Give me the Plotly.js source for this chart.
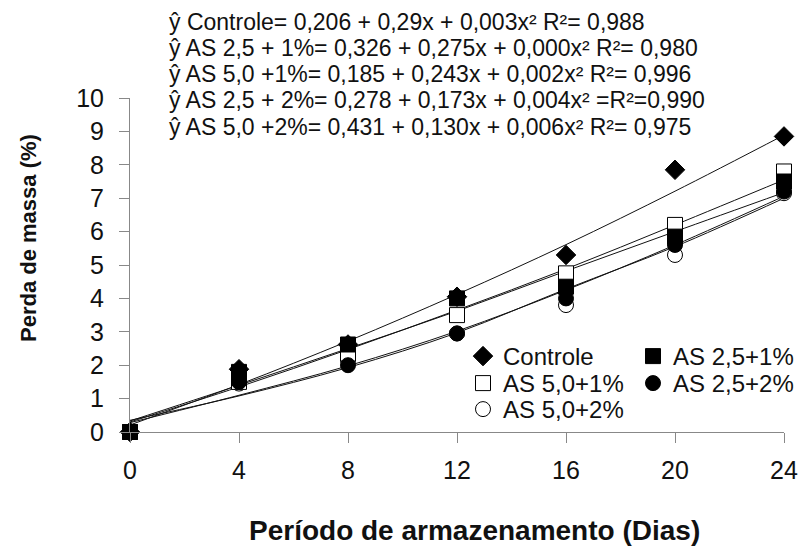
<!DOCTYPE html>
<html>
<head>
<meta charset="utf-8">
<script src="https://cdn.plot.ly/plotly-3.0.1.min.js"></script>
<style>html,body{margin:0;padding:0;background:#fff;}#chart{width:802px;height:551px;}</style>
</head>
<body>
<div id="chart"></div>
<script>
// ---- data ----
const days = [0, 4, 8, 12, 16, 20, 24];
const controle = [0, 1.88, 2.62, 4.05, 5.3, 7.85, 8.85];
const as25_1 = [0, 1.8, 2.62, 4.0, 4.35, 5.85, 7.5];
const as50_1 = [0, 1.5, 2.35, 3.5, 4.75, 6.2, 7.8];
const as25_2 = [0, 1.5, 2.0, 2.95, 4.0, 5.6, 7.2];
const as50_2 = [0, 1.45, 2.15, 2.95, 3.8, 5.3, 7.15];

// trendline values at each day
const fitControle = [0.21, 1.42, 2.72, 4.12, 5.61, 7.21, 8.89];
const fitAS25_1 = [0.33, 1.40, 2.50, 3.62, 4.82, 6.00, 7.17];
const fitAS50_1 = [0.30, 1.35, 2.47, 3.65, 4.88, 6.20, 7.55];
const fitAS25_2 = [0.28, 1.10, 1.98, 3.02, 4.25, 5.60, 7.06];
const fitAS50_2 = [0.35, 1.08, 1.93, 2.97, 4.28, 5.55, 7.00];

const seriesNames = ["Controle", "AS 2,5+1%", "AS 5,0+1%", "AS 2,5+2%", "AS 5,0+2%"];
const equations = [
  "ŷ Controle= 0,206 + 0,29x + 0,003x² R²= 0,988",
  "ŷ AS 2,5 + 1%= 0,326 + 0,275x + 0,000x² R²= 0,980",
  "ŷ AS 5,0 +1%= 0,185 + 0,243x + 0,002x² R²= 0,996",
  "ŷ AS 2,5 + 2%= 0,278 + 0,173x + 0,004x² =R²=0,990",
  "ŷ AS 5,0 +2%= 0,431 + 0,130x + 0,006x² R²= 0,975"
];
const xTicks = [0, 4, 8, 12, 16, 20, 24];
const yTicks = [0, 1, 2, 3, 4, 5, 6, 7, 8, 9, 10];
const xTitle = "Período de armazenamento (Dias)";
const yTitle = "Perda de massa (%)";

// ---- plot geometry ----
const W = 802, H = 551;
const M = {l: 130, r: 18, t: 98, b: 119, autoexpand: false};
const plotH = H - M.t - M.b, plotW = W - M.l - M.r;
const pyToPaper = py => (H - M.b - py) / plotH;
const pxToPaper = px => (px - M.l) / plotW;

function fitLine(y) {
  return {x: days, y: y, mode: "lines", type: "scatter", showlegend: false,
    hoverinfo: "skip", line: {color: "#111", width: 1, shape: "spline", smoothing: 1}};
}
function pts(y, name, symbol, fill, size, legend) {
  return {x: days, y: y, name: name, mode: "markers", type: "scatter", cliponaxis: false,
    legend: legend,
    marker: {symbol: symbol, size: size, color: fill, line: {color: "#000", width: 1}}};
}

const traces = [
  fitLine(fitControle), fitLine(fitAS25_1), fitLine(fitAS50_1), fitLine(fitAS25_2), fitLine(fitAS50_2),
  pts(controle, seriesNames[0], "diamond", "#000", 15, "legend"),
  pts(as50_2, seriesNames[4], "circle", "#fff", 15, "legend5"),
  pts(as50_1, seriesNames[2], "square", "#fff", 15, "legend3"),
  pts(as25_2, seriesNames[3], "circle", "#000", 15, "legend4"),
  pts(as25_1, seriesNames[1], "square", "#000", 15, "legend2")
];

const eqY = [22, 48, 74, 100, 127];
const annotations = equations.map((t, i) => ({
  text: t, xref: "paper", yref: "paper", x: pxToPaper(167), y: pyToPaper(eqY[i]),
  xanchor: "left", yanchor: "middle", showarrow: false,
  font: {family: "Liberation Sans, Arial, sans-serif", size: 23, color: "#111"}
}));
annotations.push({
  text: xTitle, xref: "paper", yref: "paper", x: pxToPaper(474), y: pyToPaper(530),
  xanchor: "center", yanchor: "middle", showarrow: false,
  font: {family: "Liberation Sans, Arial, sans-serif", size: 28, color: "#111", weight: "bold"}
});
annotations.push({
  text: yTitle, xref: "paper", yref: "paper", x: pxToPaper(28), y: pyToPaper(238),
  xanchor: "center", yanchor: "middle", showarrow: false, textangle: -90,
  font: {family: "Liberation Sans, Arial, sans-serif", size: 22, color: "#111", weight: "bold"}
});

const legendFont = {family: "Liberation Sans, Arial, sans-serif", size: 24, color: "#111"};
function cellLegend(leftPx, topPx) {
  return {x: pxToPaper(leftPx), y: pyToPaper(topPx), xanchor: "left", yanchor: "top",
    bgcolor: "rgba(0,0,0,0)", font: legendFont, tracegroupgap: 0, itemwidth: 30};
}

const layout = {
  width: W, height: H,
  margin: M,
  paper_bgcolor: "#fff", plot_bgcolor: "#fff",
  showlegend: true,
  xaxis: {
    range: [0, 24], tickvals: xTicks, ticktext: xTicks.map(String),
    ticks: "outside", ticklen: 10, tickcolor: "#888", tickwidth: 1,
    showline: true, linecolor: "#888", linewidth: 1, ticklabelstandoff: 6,
    showgrid: false, zeroline: false, fixedrange: true, automargin: false,
    tickfont: {family: "Liberation Sans, Arial, sans-serif", size: 25, color: "#111"}
  },
  yaxis: {
    range: [0, 10], tickvals: yTicks,
    ticks: "outside", ticklen: 10, tickcolor: "#888", tickwidth: 1,
    showline: true, linecolor: "#888", linewidth: 1, ticklabelstandoff: 10,
    showgrid: false, zeroline: false, fixedrange: true, automargin: false,
    tickfont: {family: "Liberation Sans, Arial, sans-serif", size: 25, color: "#111"}
  },
  legend: cellLegend(463, 334),
  legend2: cellLegend(633, 334),
  legend3: cellLegend(463, 361),
  legend4: cellLegend(633, 361),
  legend5: cellLegend(463, 387),
  annotations: annotations
};

Plotly.newPlot("chart", traces, layout, {displayModeBar: false, staticPlot: true});
</script>
</body>
</html>
